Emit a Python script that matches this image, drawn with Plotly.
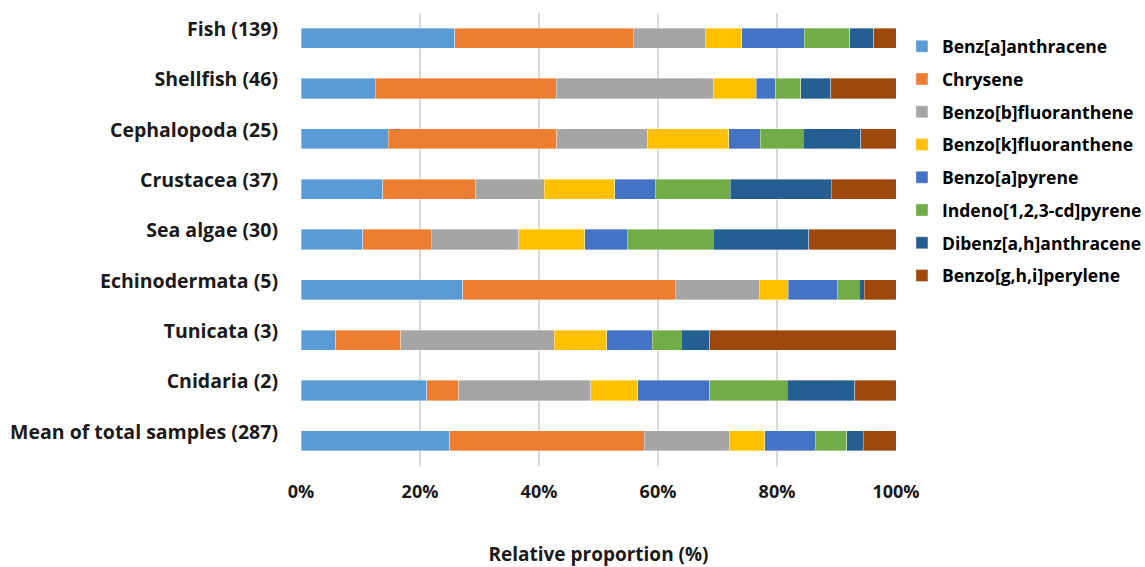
import plotly.graph_objects as go

# Sample groups (number of samples in parentheses), top to bottom
groups = [
    "Fish (139)", "Shellfish (46)", "Cephalopoda (25)", "Crustacea (37)",
    "Sea algae (30)", "Echinodermata (5)", "Tunicata (3)", "Cnidaria (2)",
    "Mean of total samples (287)",
]

# Relative proportion (%) of each PAH per group, same order as groups
benz_a_anthracene = [25.8, 12.5, 14.7, 13.7, 10.4, 27.2, 5.8, 21.1, 25.0]
chrysene = [30.0, 30.4, 28.3, 15.7, 11.5, 35.7, 11.0, 5.4, 32.7]
benzo_b_fluoranthene = [12.1, 26.5, 15.3, 11.5, 14.7, 14.1, 25.8, 22.2, 14.3]
benzo_k_fluoranthene = [6.2, 7.1, 13.6, 11.8, 11.1, 4.9, 8.8, 7.9, 5.9]
benzo_a_pyrene = [10.5, 3.3, 5.3, 6.8, 7.1, 8.2, 7.6, 12.1, 8.5]
indeno_pyrene = [7.6, 4.2, 7.2, 12.6, 14.5, 3.7, 4.9, 13.0, 5.3]
dibenz_ah_anthracene = [4.1, 5.0, 9.7, 17.0, 16.0, 0.9, 4.8, 11.4, 2.8]
benzo_ghi_perylene = [3.7, 11.1, 5.9, 10.9, 14.7, 5.3, 31.3, 6.9, 5.5]

series = [
    ("Benz[a]anthracene", benz_a_anthracene, "#5B9BD5"),
    ("Chrysene", chrysene, "#ED7D31"),
    ("Benzo[b]fluoranthene", benzo_b_fluoranthene, "#A5A5A5"),
    ("Benzo[k]fluoranthene", benzo_k_fluoranthene, "#FFC000"),
    ("Benzo[a]pyrene", benzo_a_pyrene, "#4472C4"),
    ("Indeno[1,2,3-cd]pyrene", indeno_pyrene, "#70AD47"),
    ("Dibenz[a,h]anthracene", dibenz_ah_anthracene, "#255E91"),
    ("Benzo[g,h,i]perylene", benzo_ghi_perylene, "#9E480E"),
]

x_ticks = [0, 20, 40, 60, 80, 100]
x_tick_labels = ["0%", "20%", "40%", "60%", "80%", "100%"]

FONT = "'Open Sans', Lato, sans-serif"

fig = go.Figure()
for i, (name, vals, color) in enumerate(series):
    fig.add_trace(go.Bar(
        y=groups, x=vals, name=name, orientation="h",
        marker=dict(color=color, line=dict(color="rgba(255,255,255,0.6)", width=0.6)),
        width=0.4, legendgroup=f"g{i}",
    ))

fig.update_layout(
    barmode="stack",
    width=1145, height=567,
    margin=dict(l=301, r=249, t=13, b=101, autoexpand=False),
    paper_bgcolor="white", plot_bgcolor="white",
    font=dict(family=FONT, color="#1a1a1a"),
    showlegend=True,
    legend=dict(
        x=1.01, y=0.966, xanchor="left", yanchor="top",
        font=dict(size=17.5, family=FONT, color="#000000", weight="bold"),
        tracegroupgap=7, itemwidth=30,
        bgcolor="rgba(0,0,0,0)",
    ),
    xaxis=dict(
        range=[0, 100], tickvals=x_ticks, ticktext=x_tick_labels,
        showgrid=True, gridcolor="#D9D9D9", gridwidth=1.5,
        zeroline=False, showline=False, ticks="",
        ticklabelstandoff=13,
        tickfont=dict(size=18, family=FONT, color="#1a1a1a", weight="bold"),
        title=dict(text="Relative proportion (%)", standoff=47,
                   font=dict(size=19, family=FONT, color="#1a1a1a", weight="bold")),
    ),
    yaxis=dict(
        autorange="reversed", showgrid=False, zeroline=False, showline=False,
        ticks="", ticklabelstandoff=22, ticklabelshift=9,
        tickfont=dict(size=19.5, family=FONT, color="#1a1a1a", weight="bold"),
    ),
)

fig.write_html("out.html")
